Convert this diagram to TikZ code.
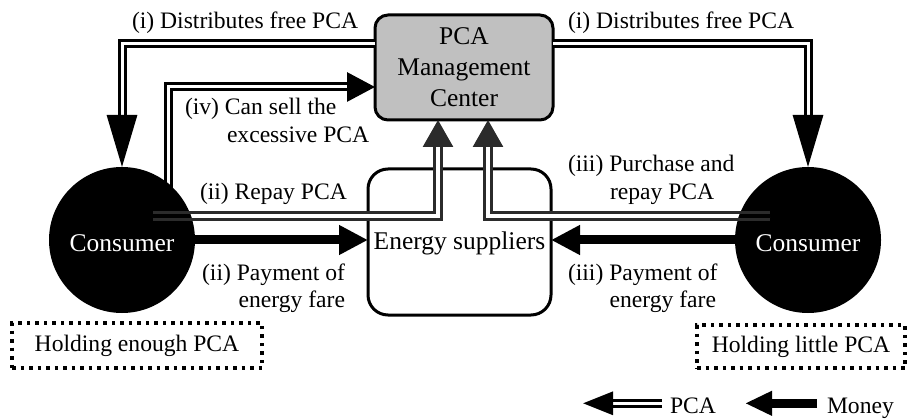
\documentclass[tikz,border=0pt]{standalone}
\usepackage{fontspec}
\setmainfont{Liberation Serif}
\usetikzlibrary{arrows.meta,calc}
\definecolor{pcagray}{HTML}{2B2B2B}
\definecolor{boxgray}{HTML}{C0C0C0}
\tikzset{
  every node/.style={inner sep=0pt, outer sep=0pt},
  lab/.style={font=\fontsize{23.6}{28}\selectfont},
  big/.style={font=\fontsize{25.5}{31}\selectfont},
  pcablack/.style={draw=black, line width=3pt, double=white, double distance=3pt},
  pcagrayline/.style={draw=pcagray, line width=2.8pt, double=white, double distance=4pt},
  money/.style={draw=black, line width=9pt},
  holdbox/.style={draw, line width=3.5pt, dash pattern=on 3.5pt off 5pt, minimum height=45pt, lab},
  consumer/.style={circle, fill=black, minimum size=146pt, text=white, big, text height=24pt, text depth=0pt},
}
\begin{document}
\begin{tikzpicture}[x=1pt,y=-1pt]
\useasboundingbox (0,0) rectangle (909,419);

% boxes
\node[draw, line width=3pt, fill=boxgray, rounded corners=13pt, minimum width=178pt,
      minimum height=105pt, align=center, big] (pca) at (464,67.5) {PCA\\Management\\Center};
\node[draw, line width=3pt, rounded corners=20pt, minimum width=183pt, minimum height=146pt,
      big, text height=17pt, text depth=1pt] (es) at (459.5,242) {Energy suppliers};
\node[consumer] (cL) at (122,240) {Consumer};
\node[consumer] (cR) at (808,240) {Consumer};

% PCA flows
\draw[pcablack, -{Triangle[length=52pt,width=30pt]}] ([yshift=23.5pt]pca.west) -| (cL.north);
\draw[pcablack, -{Triangle[length=52pt,width=30pt]}] ([yshift=23.5pt]pca.east) -| (cR.north);
\draw[pcagrayline, -{Triangle[length=27pt,width=30pt]}] ([xshift=31pt,yshift=24pt]cL.center) -| ([xshift=-26pt]pca.south);
\draw[pcablack, -{Triangle[length=28pt,width=29pt]}] ([xshift=46pt,yshift=24pt]cL.center) |- ([yshift=-19.5pt]pca.west);
\draw[pcagrayline, -{Triangle[length=27pt,width=30pt]}] ([xshift=-38pt,yshift=24pt]cR.center) -| ([xshift=24pt]pca.south);

% parts inside the circles (transparent core)
\begin{scope}
  \clip (cL.center) circle[radius=73pt];
  \draw[pcablack, double=black] ([xshift=46pt,yshift=24pt]cL.center) -- ++(0,-70);
  \draw[pcagrayline, double=black] ([xshift=31pt,yshift=24pt]cL.center) -- ++(70,0);
\end{scope}
\begin{scope}
  \clip (cR.center) circle[radius=73pt];
  \draw[pcagrayline, double=black] ([xshift=-38pt,yshift=24pt]cR.center) -- ++(-70,0);
\end{scope}

% money flows
\draw[money, -{Triangle[length=29pt,width=28pt]}] (cL.east) -- (es.west |- cL.east);
\draw[money, -{Triangle[length=29pt,width=28pt]}] (cR.west) -- (es.east |- cR.west);

% labels
\node[lab, anchor=base west] (li) at (132,29) {(i) Distributes free PCA};
\node[lab, anchor=base west] (ri) at (568,29) {(i) Distributes free PCA};
\node[lab, anchor=base west] (iv1) at (185,115) {(iv) Can sell the};
\node[lab, anchor=base west] (iv2) at (227,143) {excessive PCA};
\node[lab, anchor=base west] (ii1) at (200,200) {(ii) Repay PCA};
\node[lab, anchor=base east] (ii2) at (345,280) {(ii) Payment of};
\node[lab, anchor=base east] (ii3) at (345,307) {energy fare};
\node[lab, anchor=base west] (iii1) at (568,172) {(iii) Purchase and};
\node[lab, anchor=base west] (iii2) at (610,200) {repay PCA};
\node[lab, anchor=base west] (iii3) at (568,280) {(iii) Payment of};
\node[lab, anchor=base east] (iii4) at (716,307) {energy fare};

% holding boxes
\node[holdbox, minimum width=250pt] (hL) at (137,345.5) {Holding enough PCA};
\node[holdbox, minimum width=208pt, minimum height=43pt] (hR) at (801,346.5) {Holding little PCA};

% legend
\node[lab, anchor=base west] (legpca) at (670,413) {PCA};
\node[lab, anchor=base west] (legmoney) at (827,413) {Money};
\draw[pcablack, -{Triangle[length=30pt,width=23pt]}] ([xshift=-8pt,yshift=2pt]legpca.west) -- ++(-79,0);
\draw[money, -{Triangle[length=27pt,width=23pt]}] ([xshift=-10pt,yshift=4.5pt]legmoney.west) -- ++(-72,0);
\end{tikzpicture}
\end{document}
